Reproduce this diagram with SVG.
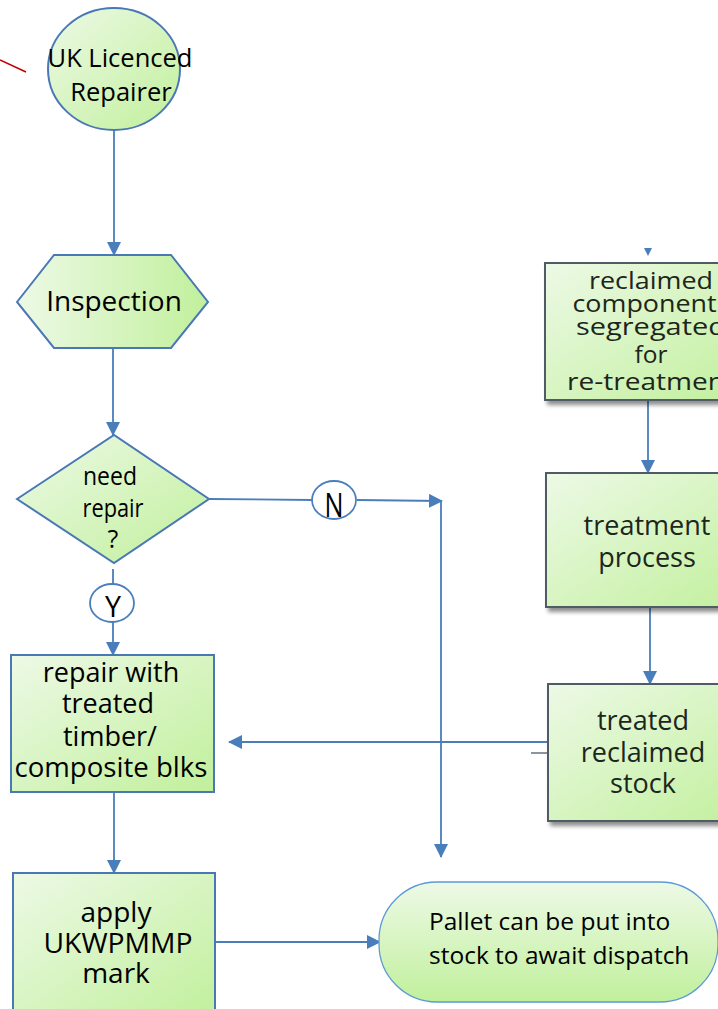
<svg xmlns="http://www.w3.org/2000/svg" width="718" height="1009" viewBox="0 0 718 1009">
<defs>
<style>
.t{font-family:"Open Sans","Liberation Sans",sans-serif;fill:#000;text-anchor:middle}
.r{font-family:"Open Sans","Liberation Sans",sans-serif;fill:#1c261c;text-anchor:middle;font-size:27px}
.rs{font-size:24.5px}
.c{fill:none;stroke:#4a7ebb;stroke-width:1.8}
.node{stroke:#4a78b5;stroke-width:2}
.rbox{fill:url(#gd);stroke:#4f5b66;stroke-width:2;filter:url(#sh)}
</style>
<linearGradient id="gd" x1="0" y1="0" x2="1" y2="1">
<stop offset="0" stop-color="#edf9e6"/><stop offset="1" stop-color="#c1f09c"/>
</linearGradient>
<linearGradient id="gh" x1="0" y1="0" x2="1" y2="0">
<stop offset="0" stop-color="#edf9e6"/><stop offset="1" stop-color="#c1f09c"/>
</linearGradient>
<linearGradient id="gv" x1="0" y1="0" x2="0" y2="1">
<stop offset="0" stop-color="#edf9e6"/><stop offset="1" stop-color="#c1f09c"/>
</linearGradient>
<filter id="sh" x="-10%" y="-10%" width="130%" height="130%">
<feGaussianBlur in="SourceAlpha" stdDeviation="2"/>
<feOffset dx="3" dy="4"/>
<feComponentTransfer><feFuncA type="linear" slope="0.45"/></feComponentTransfer>
<feMerge><feMergeNode/><feMergeNode in="SourceGraphic"/></feMerge>
</filter>
<marker id="ah" markerUnits="userSpaceOnUse" markerWidth="14" markerHeight="14" viewBox="0 0 14 14" refX="13" refY="7" orient="auto">
<path d="M0,0 L14,7 L0,14 z" fill="#4a7ebb"/>
</marker>
</defs>

<line x1="0" y1="60" x2="26" y2="72" stroke="#c00000" stroke-width="1.5"/>

<g id="connectors">
<line class="c" x1="114" y1="130" x2="114" y2="255" marker-end="url(#ah)"/>
<line class="c" x1="113" y1="348" x2="113" y2="435" marker-end="url(#ah)"/>
<line class="c" x1="113" y1="569" x2="113" y2="584"/>
<line class="c" x1="113" y1="622" x2="113" y2="655" marker-end="url(#ah)"/>
<line class="c" x1="209" y1="499" x2="312" y2="500"/>
<line class="c" x1="357" y1="500" x2="442" y2="501" marker-end="url(#ah)"/>
<line class="c" x1="441" y1="501" x2="441" y2="857" marker-end="url(#ah)"/>
<line class="c" x1="114" y1="792" x2="114" y2="873" marker-end="url(#ah)"/>
<line class="c" x1="215" y1="942" x2="380" y2="942" marker-end="url(#ah)"/>
<line class="c" x1="552" y1="742" x2="229" y2="742" marker-end="url(#ah)"/>
<line x1="531" y1="753" x2="548" y2="753" stroke="#8a96a3" stroke-width="2"/>
<line class="c" x1="648" y1="400" x2="648" y2="473" marker-end="url(#ah)"/>
<line class="c" x1="650" y1="607" x2="650" y2="684" marker-end="url(#ah)"/>
<path d="M644,248 L652,248 L648,256 z" fill="#4a7ebb"/>
</g>

<g id="n-repairer">
<ellipse class="node" cx="114" cy="69" rx="66" ry="61" fill="url(#gd)"/>
<text class="t" x="120" y="67" font-size="25.5">UK Licenced</text>
<text class="t" x="121" y="101" font-size="25.5">Repairer</text>
</g>

<g id="n-inspection">
<polygon class="node" points="17,302 54,255 171,255 208,302 171,348 54,348" fill="url(#gh)"/>
<text class="t" x="114" y="311" font-size="28">Inspection</text>
</g>

<g id="n-decision">
<polygon class="node" points="17,499 114,435 209,499 114,563" fill="url(#gd)"/>
<text class="t" x="110" y="485" font-size="25" textLength="54" lengthAdjust="spacingAndGlyphs">need</text>
<text class="t" x="113" y="517" font-size="25" textLength="61" lengthAdjust="spacingAndGlyphs">repair</text>
<text class="t" x="113" y="548" font-size="25">?</text>
</g>

<g id="n-no">
<ellipse cx="334" cy="500" rx="22" ry="19" fill="#fff" stroke="#4a7ebb" stroke-width="1.8"/>
<text class="t" x="334" y="517" font-size="33" textLength="19" lengthAdjust="spacingAndGlyphs">N</text>
</g>

<g id="n-yes">
<ellipse cx="112" cy="603" rx="22" ry="19" fill="#fff" stroke="#4a7ebb" stroke-width="1.8"/>
<text class="t" x="113" y="617" font-size="30" textLength="16" lengthAdjust="spacingAndGlyphs">Y</text>
</g>

<g id="n-repair">
<rect class="node" x="11" y="655" width="203" height="137" fill="url(#gd)"/>
<text class="t" x="111" y="682" font-size="27">repair with</text>
<text class="t" x="108" y="713" font-size="27">treated</text>
<text class="t" x="110" y="746" font-size="27">timber/</text>
<text class="t" x="111" y="777" font-size="27" textLength="193" lengthAdjust="spacingAndGlyphs">composite blks</text>
</g>

<g id="n-apply">
<rect class="node" x="13" y="873" width="202" height="145" fill="url(#gd)"/>
<text class="t" x="116" y="922" font-size="28">apply</text>
<text class="t" x="118" y="953" font-size="28" textLength="149" lengthAdjust="spacingAndGlyphs">UKWPMMP</text>
<text class="t" x="116" y="983" font-size="28">mark</text>
</g>

<g id="n-pallet">
<rect x="379" y="882" width="339" height="120" rx="58" ry="58" fill="url(#gv)" stroke="#5b9bd5" stroke-width="1.3"/>
<text x="429" y="930" font-size="24.5" font-family="Open Sans, Liberation Sans, sans-serif" fill="#000">Pallet can be put into</text>
<text x="429" y="964" font-size="24.5" font-family="Open Sans, Liberation Sans, sans-serif" fill="#000">stock to await dispatch</text>
</g>

<g id="n-reclaimed">
<rect class="rbox" x="545" y="263" width="206" height="137"/>
<text class="r rs" x="651" y="289" textLength="124" lengthAdjust="spacingAndGlyphs">reclaimed</text>
<text class="r rs" x="651" y="312" textLength="157" lengthAdjust="spacingAndGlyphs">components</text>
<text class="r rs" x="651" y="335" textLength="150" lengthAdjust="spacingAndGlyphs">segregated</text>
<text class="r rs" x="651" y="363">for</text>
<text class="r rs" x="651" y="390" textLength="168" lengthAdjust="spacingAndGlyphs">re-treatment</text>
</g>

<g id="n-treatment">
<rect class="rbox" x="546" y="473" width="206" height="134"/>
<text class="r" x="647" y="535">treatment</text>
<text class="r" x="647" y="567">process</text>
</g>

<g id="n-stock">
<rect class="rbox" x="548" y="684" width="206" height="137"/>
<text class="r" x="643" y="730">treated</text>
<text class="r" x="643" y="762">reclaimed</text>
<text class="r" x="643" y="793">stock</text>
</g>
</svg>
